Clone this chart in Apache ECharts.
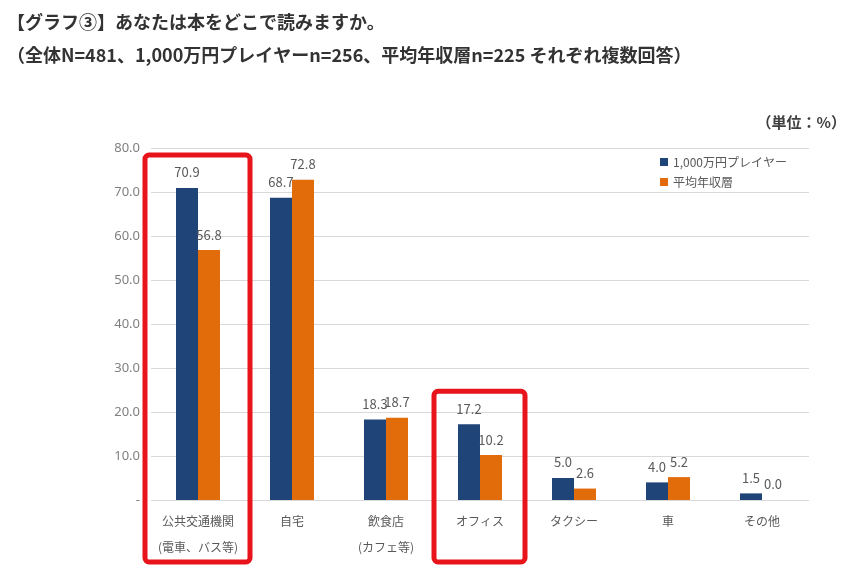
<!DOCTYPE html>
<html>
<head>
<meta charset="utf-8">
<script src="https://cdn.jsdelivr.net/npm/echarts@6/dist/echarts.min.js"></script>
<style>
html,body{margin:0;padding:0;background:#fff;}
#chart{width:853px;height:572px;}
</style>
</head>
<body>
<div id="chart"></div>
<script>
const categories = ['公共交通機関\n(電車、バス等)', '自宅', '飲食店\n(カフェ等)', 'オフィス', 'タクシー', '車', 'その他'];
const seriesNames = ['1,000万円プレイヤー', '平均年収層'];
const highIncome = [70.9, 68.7, 18.3, 17.2, 5.0, 4.0, 1.5];
const averageIncome = [56.8, 72.8, 18.7, 10.2, 2.6, 5.2, 0.0];
const titleText = '【グラフ③】あなたは本をどこで読みますか。';
const subText = '（全体N=481、1,000万円プレイヤーn=256、平均年収層n=225 それぞれ複数回答）';
const unitText = '（単位：%）';
const highlighted = [0, 3];

const FONT = '"Noto Sans CJK JP", "Noto Sans", sans-serif';
const chart = echarts.init(document.getElementById('chart'));
const labelCfg = {
  show: true, position: 'top', distance: 9,
  formatter: p => p.value.toFixed(1),
  color: '#595959', fontSize: 13, fontFamily: FONT
};
chart.setOption({
  backgroundColor: '#fff',
  animation: false,
  textStyle: { fontFamily: FONT },
  title: [
    { text: titleText, left: 2, top: 8, textStyle: { fontSize: 18, fontWeight: 'bold', color: '#333', fontFamily: FONT } },
    { text: subText, left: 2, top: 41, textStyle: { fontSize: 18, fontWeight: 'bold', color: '#333', fontFamily: FONT } },
    { text: unitText, right: 2, top: 110, textStyle: { fontSize: 15, fontWeight: 'bold', color: '#404040', fontFamily: FONT } }
  ],
  legend: {
    orient: 'vertical', left: 656, top: 154, itemWidth: 8, itemHeight: 8, itemGap: 8,
    icon: 'rect', backgroundColor: '#fff', padding: [2, 4],
    textStyle: { fontSize: 12, color: '#595959', fontFamily: FONT },
    data: seriesNames
  },
  grid: { left: 151, right: 44, top: 148, bottom: 72 },
  xAxis: {
    type: 'category', data: categories,
    axisLine: { show: false }, axisTick: { show: false },
    axisLabel: { color: '#595959', fontSize: 12, lineHeight: 26, margin: 8, fontFamily: FONT, interval: 0 }
  },
  yAxis: {
    type: 'value', min: 0, max: 80, interval: 10,
    axisLine: { show: false }, axisTick: { show: false },
    axisLabel: { color: '#7f7f7f', fontSize: 13, margin: 11, fontFamily: '"Noto Sans", sans-serif',
      formatter: v => v === 0 ? '-' : v.toFixed(1) },
    splitLine: { lineStyle: { color: '#d9d9d9', width: 1 } }
  },
  series: [
    { name: seriesNames[0], type: 'bar', data: highIncome, barWidth: 22, barGap: '0%',
      itemStyle: { color: '#1f4478' }, label: labelCfg, z: 2 },
    { name: seriesNames[1], type: 'bar', data: averageIncome, barWidth: 22, barGap: '0%',
      itemStyle: { color: '#e36c0a' }, label: labelCfg, z: 2 }
  ]
});

// red highlight boxes around selected categories
const axisY0 = chart.convertToPixel({ yAxisIndex: 0 }, 0);
const graphics = highlighted.map((ci, k) => {
  const cx = chart.convertToPixel({ xAxisIndex: 0 }, ci);
  const maxV = Math.max(highIncome[ci], averageIncome[ci]);
  const topY = chart.convertToPixel({ yAxisIndex: 0 }, maxV) - 33;
  const halfW = k === 0 ? 52 : 45;
  return {
    type: 'rect', z: 100,
    shape: { x: cx - halfW - 1, y: topY, width: halfW * 2 + 1, height: axisY0 + 62 - topY, r: 4 },
    style: { fill: 'none', stroke: '#e8141b', lineWidth: 5 }
  };
});
chart.setOption({ graphic: graphics });
</script>
</body>
</html>
